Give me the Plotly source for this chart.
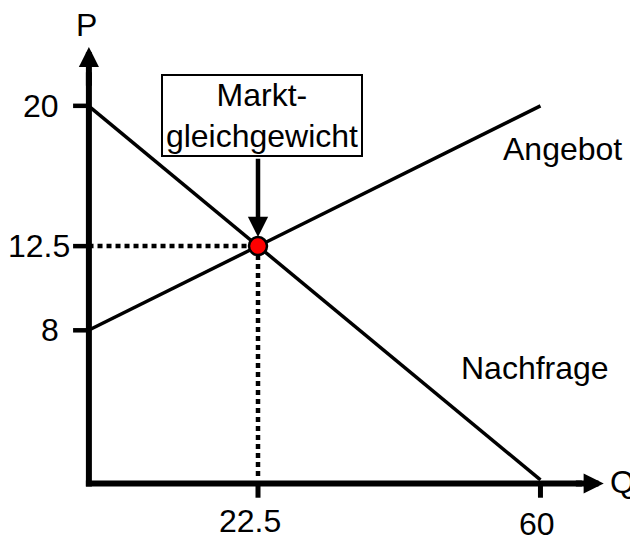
import plotly.graph_objects as go

# Marktmodell: Angebot und Nachfrage
q = [0, 60]
nachfrage = [20, 0]
angebot = [8, 20]
q_gg = 22.5
p_gg = 12.5

y_ticks = [20, 12.5, 8]
y_ticklabels = ["20", "12.5", "8"]
x_ticks = [22.5, 60]
x_ticklabels = ["22.5", "60"]

FONT = "Liberation Sans, Arial, sans-serif"
FS = 32

fig = go.Figure()

# Kurven
fig.add_trace(go.Scatter(x=q, y=nachfrage, mode="lines",
                         line=dict(color="black", width=3.5)))
fig.add_trace(go.Scatter(x=q, y=angebot, mode="lines",
                         line=dict(color="black", width=3.5)))

# gepunktete Hilfslinien zum Gleichgewicht
fig.add_trace(go.Scatter(x=[0, q_gg], y=[p_gg, p_gg], mode="lines",
                         line=dict(color="black", width=4.5, dash="5px,4px")))
fig.add_trace(go.Scatter(x=[q_gg, q_gg], y=[p_gg, 0], mode="lines",
                         line=dict(color="black", width=4.5, dash="5px,4px")))

# Achsen (Linien)
fig.add_shape(type="line", x0=0.05, x1=0.05, y0=-0.35, y1=21.8,
              line=dict(color="black", width=6))
fig.add_shape(type="line", x0=-0.35, x1=65.5, y0=-0.19, y1=-0.19,
              line=dict(color="black", width=6))

# Tick-Striche
for v in y_ticks:
    fig.add_shape(type="line", x0=-2.05, x1=0, y0=v, y1=v,
                  line=dict(color="black", width=4.5))
for v in x_ticks:
    fig.add_shape(type="line", x0=v, x1=v, y0=-0.19, y1=-0.95,
                  line=dict(color="black", width=5))

# Pfeilspitzen der Achsen
fig.add_annotation(x=0.05, y=23.15, ax=0.05, ay=21.0, axref="x", ayref="y",
                   text="", showarrow=True, arrowhead=2, arrowwidth=6,
                   arrowsize=0.67, arrowcolor="black")
fig.add_annotation(x=68.4, y=-0.19, ax=64.5, ay=-0.19, axref="x", ayref="y",
                   text="", showarrow=True, arrowhead=2, arrowwidth=6,
                   arrowsize=0.67, arrowcolor="black")

# Pfeil vom Kasten zum Gleichgewichtspunkt
fig.add_annotation(x=q_gg, y=p_gg, ax=q_gg, ay=17.25, axref="x", ayref="y",
                   text="", showarrow=True, arrowhead=2, arrowwidth=4.5,
                   arrowsize=0.9, arrowcolor="black", standoff=9)

# Gleichgewichtspunkt
fig.add_trace(go.Scatter(x=[q_gg], y=[p_gg], mode="markers",
                         marker=dict(color="red", size=18,
                                     line=dict(color="black", width=2.5))))

# Kasten "Marktgleichgewicht"
fig.add_annotation(x=23.0, y=19.5, xref="x", yref="y", showarrow=False,
                   text="Markt-<br>gleichgewicht", width=198, height=79,
                   bordercolor="black", borderwidth=2, borderpad=0,
                   bgcolor="white", font=dict(size=FS, color="black", family=FONT))

# Tick-Beschriftungen
for v, lab in zip(y_ticks, y_ticklabels):
    xpos = -2.2 if len(lab) > 2 else -3.6
    fig.add_annotation(x=xpos, y=v, text=lab, showarrow=False, xanchor="right",
                       font=dict(size=FS, color="black", family=FONT))
fig.add_annotation(x=x_ticks[0] - 1.0, y=-2.2, text=x_ticklabels[0], showarrow=False,
                   height=28, borderpad=0,
                   font=dict(size=FS, color="black", family=FONT))
fig.add_annotation(x=x_ticks[1] - 0.4, y=-2.35, text=x_ticklabels[1], showarrow=False,
                   height=28, borderpad=0,
                   font=dict(size=FS, color="black", family=FONT))

# Achsenbeschriftungen und Kurvennamen
fig.add_annotation(x=-0.3, y=24.3, text="P", showarrow=False,
                   font=dict(size=FS, color="black", family=FONT))
fig.add_annotation(x=70.9, y=-0.1, text="Q", showarrow=False,
                   font=dict(size=FS, color="black", family=FONT))
fig.add_annotation(x=62.9, y=17.7, text="Angebot", showarrow=False,
                   font=dict(size=FS, color="black", family=FONT))
fig.add_annotation(x=59.3, y=6.0, text="Nachfrage", showarrow=False,
                   font=dict(size=FS, color="black", family=FONT))

# Seite hat 8px Rand -> Figur entsprechend kleiner
fig.update_layout(
    width=630, height=529,
    margin=dict(l=0, r=0, t=0, b=0),
    paper_bgcolor="white", plot_bgcolor="white",
    showlegend=False,
    xaxis=dict(range=[-10.69, 72.95], visible=False, fixedrange=True),
    yaxis=dict(range=[-3.05, 25.23], visible=False, fixedrange=True),
)

fig.write_html("out.html")
